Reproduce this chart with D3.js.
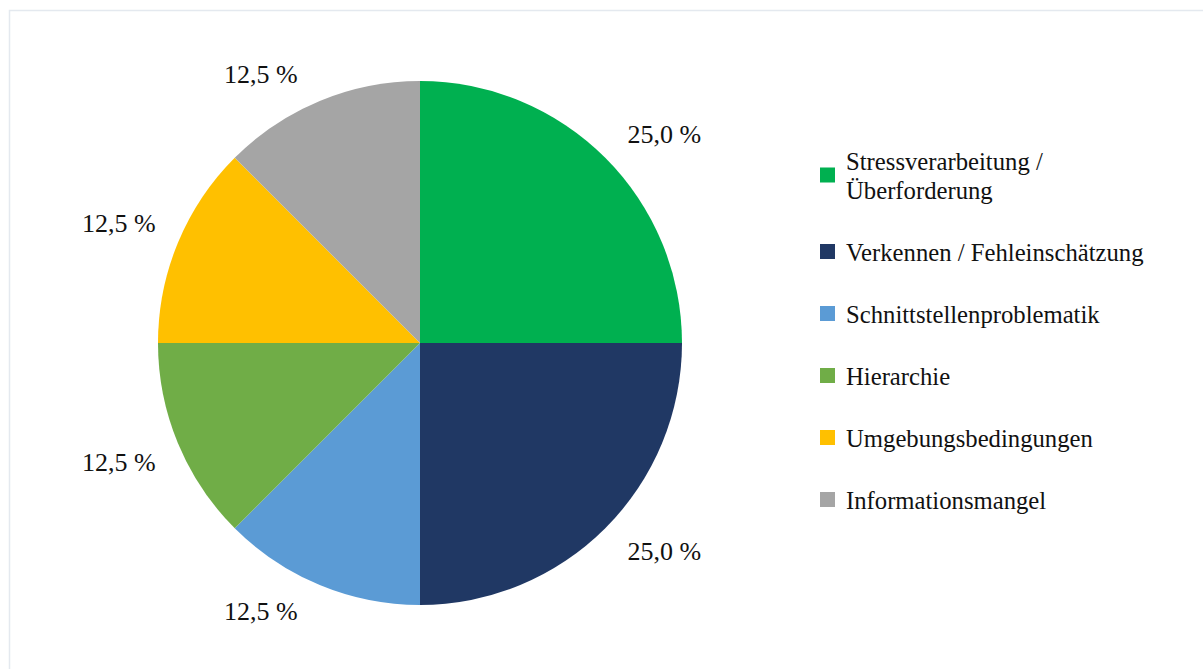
<!DOCTYPE html>
<html>
<head>
<meta charset="utf-8">
<script src="https://cdn.jsdelivr.net/npm/d3@7"></script>
<style>
  html, body { margin: 0; padding: 0; background: #fff; }
  svg { display: block; }
</style>
</head>
<body>
<div id="chart"></div>
<script>
// data
const categories = [
  "Stressverarbeitung / Überforderung",
  "Verkennen / Fehleinschätzung",
  "Schnittstellenproblematik",
  "Hierarchie",
  "Umgebungsbedingungen",
  "Informationsmangel"
];
const shares = [25.0, 25.0, 12.5, 12.5, 12.5, 12.5];
const palette = ["#00b050", "#203864", "#5b9bd5", "#70ad47", "#ffc000", "#a5a5a5"];

const width = 1203;
const height = 669;
const cx = 420, cy = 343, radius = 262;

const svg = d3.select("#chart").append("svg")
  .attr("width", width)
  .attr("height", height);

// faint frame round the picture
svg.append("rect")
  .attr("x", 9.5).attr("y", 10.5)
  .attr("width", width).attr("height", height)
  .attr("fill", "none")
  .attr("stroke", "#e4e9ef")
  .attr("stroke-width", 1.5);

const color = d3.scaleOrdinal().domain(categories).range(palette);

const data = categories.map((c, i) => ({ name: c, value: shares[i] }));

const pie = d3.pie().sort(null).value(d => d.value);
const arc = d3.arc().innerRadius(0).outerRadius(radius);
const arcs = pie(data);

const g = svg.append("g").attr("transform", `translate(${cx}, ${cy})`);

g.selectAll("path.slice")
  .data(arcs)
  .enter().append("path")
  .attr("class", "slice")
  .attr("d", arc)
  .attr("fill", d => color(d.data.name));

// value labels outside the slices (box pushed off the rim, like excel's "outside end")
const fmt = v => d3.format(".1f")(v).replace(".", ",") + " %";
const labelW = 76, labelH = 26;

g.selectAll("text.val")
  .data(arcs)
  .enter().append("text")
  .attr("class", "val")
  .attr("font-family", "'Liberation Serif', 'Times New Roman', serif")
  .attr("font-size", 26)
  .attr("fill", "#111")
  .attr("text-anchor", "middle")
  .attr("dominant-baseline", "central")
  .attr("x", d => {
    const a = (d.startAngle + d.endAngle) / 2;
    const s = Math.sin(a);
    return radius * s + Math.sign(s) * (labelW / 2 + 21);
  })
  .attr("y", d => {
    const a = (d.startAngle + d.endAngle) / 2;
    const c = -Math.cos(a);
    return (radius + 12) * c + Math.sign(c) * (labelH / 2 + 2);
  })
  .text(d => fmt(d.data.value));

// legend
const legend = svg.append("g").attr("transform", "translate(820, 146)");
const lineH = 29, rowGap = 33, maxW = 310;
let yPos = 0;

categories.forEach(name => {
  const item = legend.append("g").attr("transform", `translate(0, ${yPos})`);
  const txt = item.append("text")
    .attr("x", 26)
    .attr("font-family", "'Liberation Serif', 'Times New Roman', serif")
    .attr("font-size", 24.7)
    .attr("fill", "#111")
    .attr("dominant-baseline", "central");

  // wrap words that do not fit into one line
  const words = name.split(" ");
  let lines = [];
  let cur = [];
  const probe = txt.append("tspan");
  words.forEach(w => {
    cur.push(w);
    probe.text(cur.join(" "));
    if (probe.node().getComputedTextLength() > maxW && cur.length > 1) {
      cur.pop();
      lines.push(cur.join(" "));
      cur = [w];
    }
  });
  lines.push(cur.join(" "));
  probe.remove();

  lines.forEach((l, i) => {
    txt.append("tspan")
      .attr("x", 26)
      .attr("y", lineH / 2 + i * lineH)
      .text(l);
  });

  const blockH = lines.length * lineH;
  item.append("rect")
    .attr("x", 0)
    .attr("y", blockH / 2 - 7.5)
    .attr("width", 15)
    .attr("height", 15)
    .attr("fill", color(name));

  yPos += blockH + rowGap;
});
</script>
</body>
</html>
